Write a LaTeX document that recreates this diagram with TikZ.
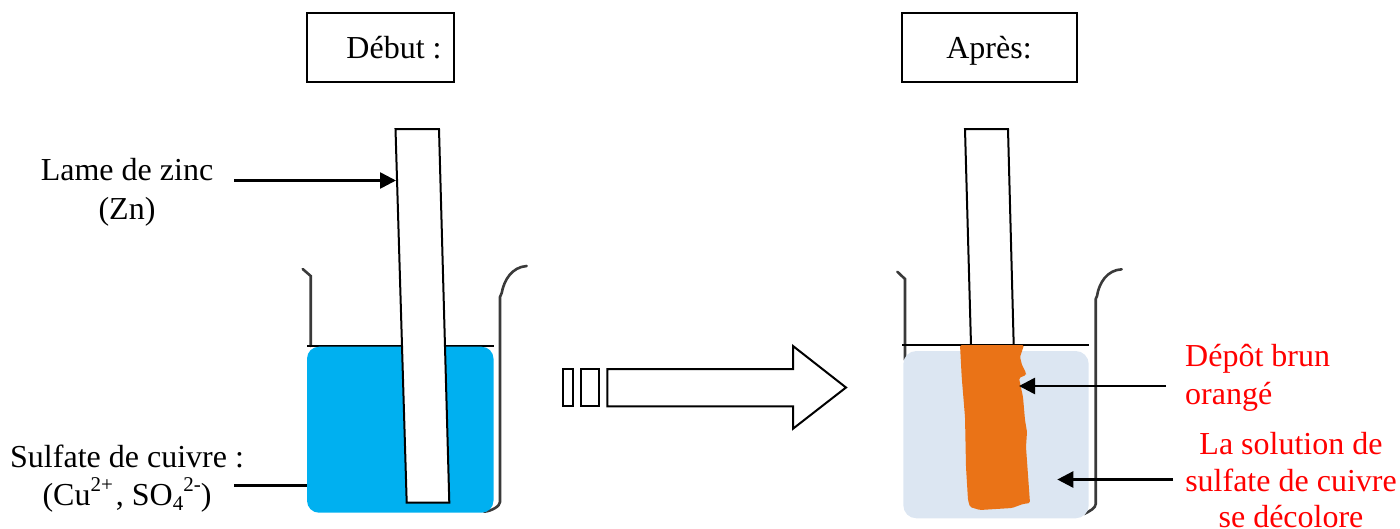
\documentclass[tikz,border=0pt]{standalone}
\usepackage{fontspec}
\setmainfont{Liberation Serif}
\usetikzlibrary{arrows.meta}
\definecolor{cuivre}{HTML}{00B0F0}
\definecolor{pale}{HTML}{DCE6F2}
\definecolor{depot}{HTML}{EA7317}
\definecolor{verre}{HTML}{3A3A3A}
\newcommand{\supr}[1]{\raisebox{14pt}{\fontsize{21}{21}\selectfont #1}}
\newcommand{\subr}[1]{\raisebox{-5pt}{\fontsize{21}{21}\selectfont #1}}
\tikzset{
  txt/.style={inner sep=0pt,font=\fontsize{32}{38}\selectfont,anchor=base},
  txtl/.style={txt,anchor=base west},
  red txt/.style={text=red},
  outline/.style={draw=black,line width=2pt,fill=white,line join=miter},
  glass/.style={draw=verre,line width=2.6pt,line cap=round},
  surface/.style={draw=black,line width=2pt},
  pointer/.style={draw=black,line width=2.6pt,-{Triangle[length=16pt,width=16pt]}},
  plainline/.style={draw=black,line width=2.6pt},
}
\begin{document}
\begin{tikzpicture}[x=1pt,y=-1pt]
\useasboundingbox (0,0) rectangle (1400,528);
% title boxes
\draw[outline] (307,13) rectangle (454,82);
\node[txt] (debut) at (394,58) {Début :};
\draw[outline] (902,13) rectangle (1077,82);
\node[txt] (apres) at (989,58) {Après:};
% left beaker
\draw[glass] (302.7,269) -- (310.7,276) -- (310.7,346);
\draw[glass] (484,511.7) .. controls (492,511) and (500,506) .. (500,502) -- (500,297) -- (501.7,293) .. controls (504,280) and (512,267) .. (526.7,266);
\draw[surface] (307,346.3) -- (494,346.3);
\fill[cuivre,rounded corners=12pt] (307,346.7) rectangle (493.5,512.7);
\draw[outline] (395.5,129) -- (439,129) -- (449.3,502.7) -- (406.7,502.7) -- cycle;
% right beaker
\draw[glass] (897.3,271.7) -- (905,279) -- (905,360);
\draw[glass] (1084,514) .. controls (1090,511) and (1095.7,508) .. (1095.7,504) -- (1095.7,299) -- (1097,296) .. controls (1099,283) and (1107,270) .. (1121.7,269.3);
\fill[pale,rounded corners=13pt] (903.3,351) rectangle (1088.7,518.3);
\draw[outline] (965,129) -- (1008,129) -- (1013.7,345) -- (971,345) -- cycle;
\draw[surface] (902.3,345) -- (1089.3,345);
\fill[depot,rounded corners=1.5pt] (960,345) -- (1024,345) -- (1020,357) -- (1022,365) -- (1026,373) -- (1026,375) -- (1019,378) -- (1023,397) -- (1025,420) -- (1027,432) -- (1026,447) -- (1030,503) -- (1023,504) -- (1012,508) -- (980,510) -- (970,507) -- (968,500) -- (966,467) -- (965,417) -- (961.7,377) -- cycle;
% big arrow
\draw[outline] (563.3,369) rectangle (572.7,406.3);
\draw[outline] (581,369) rectangle (599.3,406.3);
\draw[outline] (607.3,369) -- (793,369) -- (793,346) -- (846,387.5) -- (793,428.7) -- (793,406.3) -- (607.3,406.3) -- cycle;
% left labels
\node[txt] (lame) at (127,180) {Lame de zinc};
\node[txt] (zn) at (127,219) {(Zn)};
\node[txtl] (sulfate) at (10,467) {Sulfate de cuivre :};
\node[txt] (ions) at (127,505) {(Cu\supr{2+}\hspace{3pt}, SO\subr{4}\supr{2-})};
\coordinate (a1) at (234,180.5);
\coordinate (a2) at (396,180.5);
\draw[pointer] (a1) -- (a2);
\coordinate (b1) at (234,485.5);
\coordinate (b2) at (307,485.5);
\draw[plainline] (b1) -- (b2);
% right labels
\node[txtl,red txt] (depot1) at (1185,366) {Dépôt brun};
\node[txtl,red txt] (depot2) at (1185,404) {orangé};
\node[txt,red txt] (sol1) at (1291,454) {La solution de};
\node[txt,red txt] (sol2) at (1291,491) {sulfate de cuivre};
\node[txt,red txt] (sol3) at (1291,527) {se décolore};
\coordinate (c1) at (1166,386);
\coordinate (c2) at (1019,386);
\draw[pointer] (c1) -- (c2);
\coordinate (d1) at (1173,479.5);
\coordinate (d2) at (1057.3,479.5);
\draw[pointer] (d1) -- (d2);
\end{tikzpicture}
\end{document}
